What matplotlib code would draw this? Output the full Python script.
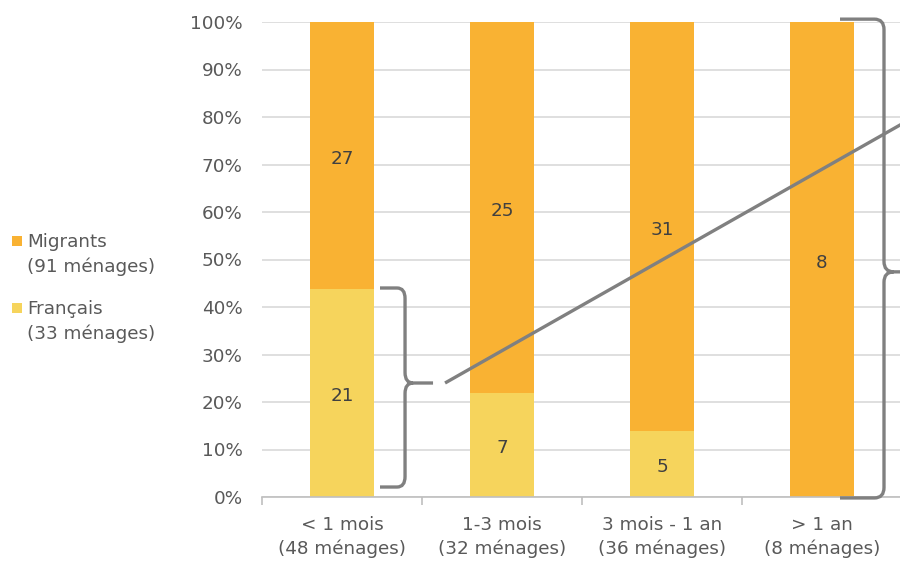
import matplotlib
matplotlib.use("Agg")
import matplotlib.pyplot as plt
from matplotlib.path import Path
from matplotlib.patches import PathPatch, Rectangle
import numpy as np

categories = ["< 1 mois\n(48 ménages)", "1-3 mois\n(32 ménages)",
              "3 mois - 1 an\n(36 ménages)", "> 1 an\n(8 ménages)"]
francais = [21, 7, 5, 0]
migrants = [27, 25, 31, 8]
series_names = ["Migrants\n(91 ménages)", "Français\n(33 ménages)"]
yticks = list(range(0, 101, 10))

c_mig = "#F9B233"
c_fr = "#F6D45C"
c_txt = "#595959"
c_grey = "#808080"
FS = 13.2

plt.rcParams["font.family"] = ["DejaVu Sans"]

fig = plt.figure(figsize=(9, 5.62), dpi=100)
ax = fig.add_axes([262/900, 65/562, 640/900, 475/562])

tot = np.array(francais) + np.array(migrants)
fr_pct = np.array(francais) / tot * 100
mi_pct = np.array(migrants) / tot * 100
x = np.arange(len(categories))

ax.bar(x, fr_pct, width=0.4, color=c_fr, zorder=2)
ax.bar(x, mi_pct, width=0.4, bottom=fr_pct, color=c_mig, zorder=2)

for i in range(len(x)):
    if francais[i] > 0:
        ax.annotate(str(francais[i]), (x[i], fr_pct[i]/2), xytext=(0, -2.2),
                    textcoords="offset points", ha="center", va="center",
                    fontsize=FS, color="#404040", zorder=4)
    ax.annotate(str(migrants[i]), (x[i], fr_pct[i] + mi_pct[i]/2), xytext=(0, -2.2),
                textcoords="offset points", ha="center", va="center",
                fontsize=FS, color="#404040", zorder=4)

ax.set_xlim(-0.5, 3.5)
ax.set_ylim(0, 100)
ax.set_yticks(yticks)
ax.set_yticklabels([f"{v}%" for v in yticks])
ax.yaxis.grid(True, color="#D9D9D9", linewidth=1.2, zorder=0)
ax.set_axisbelow(True)
for s in ["left", "right", "top"]:
    ax.spines[s].set_visible(False)
ax.spines["bottom"].set_color("#BFBFBF")
ax.spines["bottom"].set_linewidth(1.2)
ax.tick_params(axis="y", length=0, pad=14, labelsize=FS, labelcolor=c_txt)
ax.set_xticks(np.arange(-0.5, 3.6, 1.0))
ax.set_xticklabels([])
ax.tick_params(axis="x", which="major", length=6, color="#BFBFBF", width=1.2)
ax.set_xticks(x, minor=True)
ax.set_xticklabels(categories, minor=True, fontsize=FS, color=c_txt, linespacing=1.38)
ax.tick_params(axis="x", which="minor", length=0, pad=14)


def brace(ax, xv, ybot, ytop, ytip, xleft_top, xleft_bot, xtip, rx, ry):
    verts = [(xleft_top, ytop), (xv - rx, ytop), (xv, ytop), (xv, ytop - ry),
             (xv, ytip + ry), (xv, ytip), (xv + rx, ytip), (xtip, ytip),
             (xv + rx, ytip), (xv, ytip), (xv, ytip - ry),
             (xv, ybot + ry), (xv, ybot), (xv - rx, ybot), (xleft_bot, ybot)]
    codes = [Path.MOVETO, Path.LINETO, Path.CURVE3, Path.CURVE3,
             Path.LINETO, Path.CURVE3, Path.CURVE3, Path.LINETO,
             Path.MOVETO, Path.CURVE3, Path.CURVE3,
             Path.LINETO, Path.CURVE3, Path.CURVE3, Path.LINETO]
    p = PathPatch(Path(verts, codes), facecolor="none", edgecolor=c_grey,
                  linewidth=2.4, zorder=5, clip_on=False, capstyle="butt")
    ax.add_patch(p)

# left brace
brace(ax, 0.394, 2.1, 44.0, 24.0, 0.2375, 0.2375, 0.569, 0.05, 2.2)
# right brace
brace(ax, 3.3875, -0.2, 100.6, 47.4, 3.1125, 3.1125, 3.5, 0.06, 2.2)

# connecting line
ax.plot([0.644, 3.6], [24.0, 24.0 + 19.1 * (3.6 - 0.644)], color=c_grey,
        linewidth=2.4, zorder=5, solid_capstyle="butt", clip_on=True)

# legend
leg_colors = [c_mig, c_fr]
leg_y = [241, 308]
for name, col, yy in zip(series_names, leg_colors, leg_y):
    fig.patches.append(Rectangle((12/900, 1 - (yy + 5)/562), 10/900, 10/562,
                                 transform=fig.transFigure, facecolor=col,
                                 edgecolor="none"))
    for k, line in enumerate(name.split("\n")):
        fig.text(27/900, 1 - (yy + 1 + 25 * k)/562, line, fontsize=FS, color=c_txt,
                 ha="left", va="center")

fig.savefig("out.png", dpi=100)
